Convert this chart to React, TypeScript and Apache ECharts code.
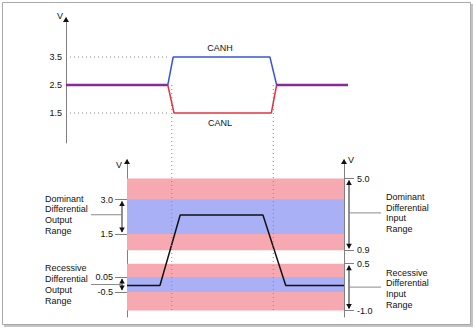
import React, { useEffect, useRef } from "react";
import * as echarts from "echarts";

// ---------- top chart (bus voltages) ----------
const topTicks = [1.5, 2.5, 3.5];
const recessiveLevel = 2.5;
const recessiveSpans = [
  [0, 36.1],
  [74.7, 100],
];
const canhT = [36.1, 38.0, 72.3, 74.7];
const canhV = [2.5, 3.5, 3.5, 2.5];
const canlT = [36.1, 38.3, 72.8, 74.7];
const canlV = [2.5, 1.5, 1.5, 2.5];
const guideLevels = [3.5, 1.5];
const guideEndT = 36;
const edgeT = [37.5, 73.5];
const edgeBottomV = -5.64;

// ---------- bottom chart (differential voltage, schematic level positions) ----------
const diffT = [21.6, 33.3, 40.5, 69.9, 78.0, 98.7];
const diffPos = [31.5, 31.5, 102, 102, 31.5, 31.5];
const outputLabels = ["3.0", "1.5", "0.05", "-0.5"];
const outputPos = [117.5, 83, 40, 25];
const inputLabels = ["5.0", "0.9", "0.5", "-1.0"];
const inputPos = [138.5, 66.7, 53.3, 6.5];

const FONT = '"Liberation Sans", Arial, Helvetica, sans-serif';
const PINK = "#f7a9b2";
const LAV = "#aab0f6";
const INK = "#111";

export default function App() {
  const ref = useRef<HTMLDivElement>(null);
  useEffect(() => {
    if (!ref.current) return;
    const chart = echarts.init(ref.current, null, { renderer: "svg" });
    const labelStyle = { color: INK, fontSize: 9, fontFamily: FONT };
    const dotted = { color: "#888", width: 1, type: [1, 3] as any };

    const option: any = {
      animation: false,
      textStyle: { fontFamily: FONT },
      grid: [
        { left: 66, right: 126, top: 18, bottom: 186 },
        { left: 127, right: 130, top: 160, bottom: 12 },
      ],
      xAxis: [
        { type: "value", gridIndex: 0, min: 0, max: 100, show: false },
        { type: "value", gridIndex: 1, min: 21.6, max: 98.7, show: false },
      ],
      yAxis: [
        {
          type: "value",
          gridIndex: 0,
          min: 0.4286,
          max: 4.893,
          splitLine: { show: false },
          axisLine: { show: true, lineStyle: { color: "#808080", width: 1 } },
          axisTick: { show: false },
          axisLabel: {
            ...labelStyle,
            margin: 4,
            customValues: topTicks,
            formatter: (v: number) => v.toFixed(1),
          },
        },
        {
          type: "value",
          gridIndex: 1,
          position: "left",
          min: 0,
          max: 157,
          splitLine: { show: false },
          axisLine: { show: true, lineStyle: { color: "#808080", width: 1 } },
          axisTick: {
            show: true,
            length: 12,
            customValues: outputPos,
            lineStyle: { color: "#808080" },
          },
          axisLabel: {
            ...labelStyle,
            margin: 14,
            customValues: outputPos,
            formatter: (v: number) => {
              const i = outputPos.indexOf(v);
              return i >= 0 ? outputLabels[i] : "";
            },
          },
        },
        {
          type: "value",
          gridIndex: 1,
          position: "right",
          min: 0,
          max: 157,
          splitLine: { show: false },
          axisLine: { show: true, lineStyle: { color: "#808080", width: 1 } },
          axisTick: {
            show: true,
            length: 10,
            customValues: inputPos,
            lineStyle: { color: "#808080" },
          },
          axisLabel: {
            ...labelStyle,
            margin: 13,
            customValues: inputPos,
            formatter: (v: number) => {
              const i = inputPos.indexOf(v);
              return i >= 0 ? inputLabels[i] : "";
            },
          },
        },
      ],
      series: [
        {
          type: "line",
          xAxisIndex: 1,
          yAxisIndex: 1,
          data: diffT.map((t, i) => [t, diffPos[i]]),
          symbol: "none",
          lineStyle: { color: "#111", width: 1.5 },
          markArea: {
            silent: true,
            data: [
              [{ yAxis: inputPos[0], itemStyle: { color: PINK } }, { yAxis: inputPos[1] }],
              [{ yAxis: inputPos[2], itemStyle: { color: PINK } }, { yAxis: inputPos[3] }],
              [{ yAxis: outputPos[0], itemStyle: { color: LAV } }, { yAxis: outputPos[1] }],
              [{ yAxis: outputPos[2], itemStyle: { color: LAV } }, { yAxis: outputPos[3] }],
            ],
          },
          z: 2,
        },
        ...guideLevels.map((v) => ({
          type: "line",
          xAxisIndex: 0,
          yAxisIndex: 0,
          data: [
            [0, v],
            [guideEndT, v],
          ],
          symbol: "none",
          lineStyle: dotted,
          z: 3,
        })),
        ...edgeT.map((t) => ({
          type: "line",
          xAxisIndex: 0,
          yAxisIndex: 0,
          clip: false,
          data: [
            [t, recessiveLevel],
            [t, edgeBottomV],
          ],
          symbol: "none",
          lineStyle: dotted,
          z: 3,
        })),
        {
          name: "CANH",
          type: "line",
          xAxisIndex: 0,
          yAxisIndex: 0,
          data: canhT.map((t, i) => [t, canhV[i]]),
          symbol: "none",
          lineStyle: { color: "#3a55dc", width: 1.5 },
          z: 4,
        },
        {
          name: "CANL",
          type: "line",
          xAxisIndex: 0,
          yAxisIndex: 0,
          data: canlT.map((t, i) => [t, canlV[i]]),
          symbol: "none",
          lineStyle: { color: "#e2343c", width: 1.5 },
          z: 4,
        },
        ...recessiveSpans.map((s) => ({
          type: "line",
          xAxisIndex: 0,
          yAxisIndex: 0,
          data: [
            [s[0], recessiveLevel],
            [s[1], recessiveLevel],
          ],
          symbol: "none",
          lineStyle: { color: "#8a2a98", width: 2.5 },
          z: 5,
        })),
      ],
    };
    chart.setOption(option);

    const topPt = (t: number, v: number) =>
      chart.convertToPixel({ xAxisIndex: 0, yAxisIndex: 0 }, [t, v]) as number[];
    const botY = (v: number) =>
      (chart.convertToPixel({ xAxisIndex: 1, yAxisIndex: 1 }, [21.6, v]) as number[])[1];
    const xTopAxis = topPt(0, 1)[0];
    const yTopAxisEnd = topPt(0, 4.893)[1];
    const xLeft = (chart.convertToPixel({ xAxisIndex: 1, yAxisIndex: 1 }, [21.6, 0]) as number[])[0];
    const xRight = (chart.convertToPixel({ xAxisIndex: 1, yAxisIndex: 1 }, [98.7, 0]) as number[])[0];
    const yBotEnd = botY(157);

    const tri = (x: number, y: number, up: boolean, w = 3, h = 6) => ({
      type: "polygon",
      shape: {
        points: up
          ? [
              [x - w, y + h],
              [x, y],
              [x + w, y + h],
            ]
          : [
              [x - w, y - h],
              [x, y],
              [x + w, y - h],
            ],
      },
      style: { fill: "#111" },
      z: 10,
    });
    const seg = (x1: number, y1: number, x2: number, y2: number, color = "#333") => ({
      type: "line",
      shape: { x1, y1, x2, y2 },
      style: { stroke: color, lineWidth: 1 },
      z: 10,
    });
    const txt = (x: number, y: number, text: string, align: string = "left", lh = 10.7) => ({
      type: "text",
      x,
      y,
      style: {
        text,
        fill: INK,
        font: `9px ${FONT}`,
        lineHeight: lh,
        textAlign: align,
        textVerticalAlign: "middle",
      },
      z: 10,
    });
    const dblArrow = (x: number, yTop: number, yBot: number) => [
      seg(x, yTop + 2, x, yBot - 2, "#222"),
      tri(x, yTop + 1.5, true, 2.8, 5),
      tri(x, yBot - 1.5, false, 2.8, 5),
    ];

    const outTop = botY(outputPos[0]);
    const outBot = botY(outputPos[1]);
    const recTop = botY(outputPos[2]);
    const recBot = botY(outputPos[3]);
    const inTop = botY(inputPos[0]);
    const inBot = botY(inputPos[1]);
    const rinTop = botY(inputPos[2]);
    const rinBot = botY(inputPos[3]);
    const xLA = xLeft - 5;
    const xRA = xRight + 5;

    const canhPt = topPt(54.6, 3.5);
    const canlPt = topPt(54.6, 1.5);

    chart.setOption({
      graphic: [
        {
          type: "rect",
          shape: { x: 4, y: 4, width: 469, height: 323 },
          style: { fill: "#c4c4c4" },
          z: -20,
          silent: true,
        },
        {
          type: "rect",
          shape: { x: 2.5, y: 2.5, width: 468, height: 322 },
          style: { fill: "#ffffff", stroke: "#a8a8a8", lineWidth: 1 },
          z: -19,
          silent: true,
        },
        tri(xTopAxis, yTopAxisEnd - 1, true, 3, 5),
        tri(xLeft, yBotEnd - 1, true, 3, 5),
        tri(xRight, yBotEnd - 1, true, 3, 5),
        txt(xTopAxis - 3, yTopAxisEnd - 2, "V", "right"),
        txt(xLeft - 5, yBotEnd + 5, "V", "right"),
        txt(xRight + 4, yBotEnd, "V", "left"),
        txt(canhPt[0], canhPt[1] - 9, "CANH", "center"),
        txt(canlPt[0], canlPt[1] + 10, "CANL", "center"),
        ...dblArrow(xLA, outTop, outBot),
        ...dblArrow(xLA, recTop, recBot),
        seg(91, (outTop + outBot) / 2 - 2, xLA, (outTop + outBot) / 2 - 2, "#8a8a8a"),
        seg(91, (recTop + recBot) / 2, xLA, (recTop + recBot) / 2, "#8a8a8a"),
        txt(45, (outTop + outBot) / 2 - 2, "Dominant\nDifferential\nOutput\nRange"),
        txt(45, (recTop + recBot) / 2, "Recessive\nDifferential\nOutput\nRange"),
        ...dblArrow(xRA, inTop, inBot),
        ...dblArrow(xRA, rinTop, rinBot),
        seg(xRA, (inTop + inBot) / 2 - 1.5, 381, (inTop + inBot) / 2 - 1.5, "#8a8a8a"),
        seg(xRA, (rinTop + rinBot) / 2, 381, (rinTop + rinBot) / 2, "#8a8a8a"),
        txt(386, (inTop + inBot) / 2 - 1.5, "Dominant\nDifferential\nInput\nRange"),
        txt(386, (rinTop + rinBot) / 2 + 1.5, "Recessive\nDifferential\nInput\nRange"),
      ],
    });

    return () => chart.dispose();
  }, []);

  return (
    <div
      ref={ref}
      style={{ position: "fixed", left: 0, top: 0, width: 474, height: 329, background: "#fff" }}
    />
  );
}
